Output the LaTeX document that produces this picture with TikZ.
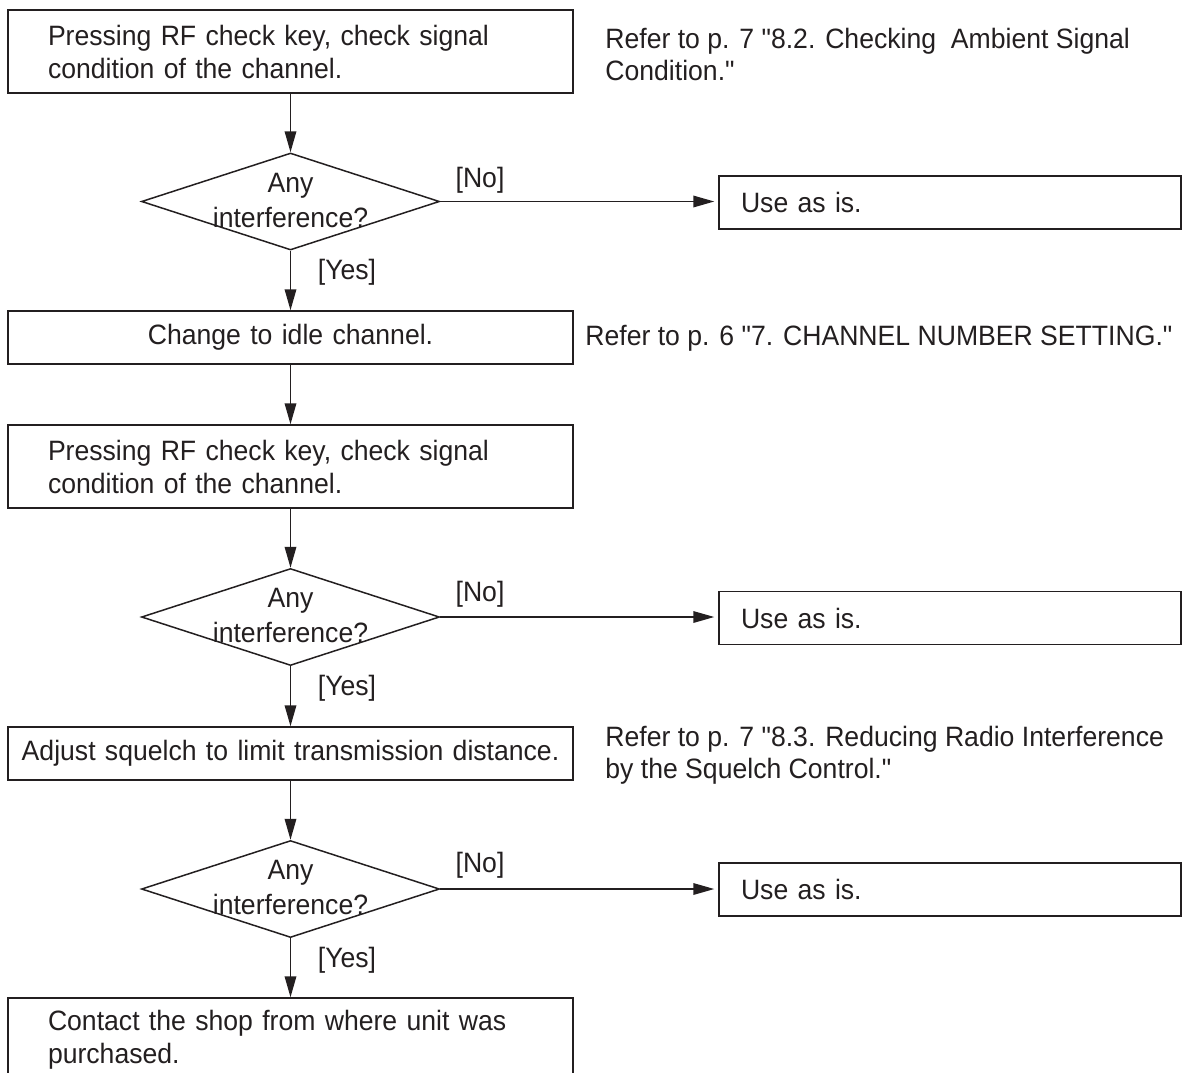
\documentclass[tikz,border=0pt]{standalone}
\usepackage{fontspec}
\setmainfont{Liberation Sans}[Ligatures=TeXOff, FakeStretch=0.95]
\usetikzlibrary{shapes.geometric,arrows.meta}
\definecolor{ink}{HTML}{231F20}
\begin{document}
\begin{tikzpicture}[x=0.5pt,y=-0.5pt,
  every node/.style={text=ink, font=\fontsize{14pt}{16.5pt}\selectfont},
  box/.style={draw=ink, line width=0.75pt, rectangle, minimum width=282.5pt, inner sep=0pt},
  tallbox/.style={box, minimum height=41.5pt, text width=242.5pt, align=left, inner xsep=20pt},
  lowbox/.style={box, minimum height=26.5pt, text width=282.5pt, align=center},
  usebox/.style={draw=ink, line width=0.75pt, rectangle, minimum height=26.5pt, inner sep=0pt, inner xsep=11pt, text width=209pt, align=left},
  decision/.style={draw=ink, line width=0.75pt, diamond, minimum width=149pt, minimum height=48.5pt, inner sep=0pt},
  dtext/.style={align=center, inner sep=0pt, font=\fontsize{14pt}{17.5pt}\selectfont},
  note/.style={anchor=west, align=left, inner sep=0pt, font=\fontsize{14pt}{16pt}\selectfont},
  lbl/.style={inner sep=0pt},
  arr/.style={draw=ink, line width=0.75pt, -{Triangle[length=10.5pt,width=5.8pt]}},
  harr/.style={arr, shorten >=2pt}
]
\useasboundingbox (0,0) rectangle (1198,1072);
\clip (0,0) rectangle (1198,1072);

% column boxes
\node[tallbox] (b1) at (290.5,51.5) {Pressing RF check key, check signal\\condition of the channel.};
\node[decision] (d1) at (290.5,201.5) {};
\node[dtext] (t1) at (290.5,200) {Any\\interference?};
\node[lowbox] (b3) at (290.5,337.5) {Change to idle channel.};
\node[tallbox] (b4) at (290.5,466.5) {Pressing RF check key, check signal\\condition of the channel.};
\node[decision] (d2) at (290.5,617) {};
\node[dtext] (t2) at (290.5,615.5) {Any\\interference?};
\node[lowbox] (b5) at (290.5,753.5) {Adjust squelch to limit transmission distance.};
\node[decision] (d3) at (290.5,889) {};
\node[dtext] (t3) at (290.5,887.5) {Any\\interference?};
\node[tallbox] (b6) at (290.5,1039.5) {Contact the shop from where unit was\\purchased.};

% right side boxes
\node[usebox] (u1) at (950,202.5) {Use as is.};
\node[usebox] (u2) at (950,618) {Use as is.};
\node[usebox] (u3) at (950,889.5) {Use as is.};

% notes
\node[note] (r1) at (605,54) {Refer to p. 7 "8.2. Checking\ \ Ambient Signal\\Condition."};
\node[note] (r2) at (585,338) {Refer to p. 6 "7. CHANNEL NUMBER SETTING."};
\node[note] (r3) at (605,755) {Refer to p. 7 "8.3. Reducing Radio Interference\\by the Squelch Control."};

% labels
\node[lbl] (n1) at (480,180) {[No]};
\node[lbl] (n2) at (480,594) {[No]};
\node[lbl] (n3) at (480,865) {[No]};
\node[lbl] (y1) at (347,272) {[Yes]};
\node[lbl] (y2) at (347,688) {[Yes]};
\node[lbl] (y3) at (347,960) {[Yes]};

% connectors
\draw[arr] (b1) -- (d1);
\draw[arr] (d1) -- (b3);
\draw[arr] (b3) -- (b4);
\draw[arr] (b4) -- (d2);
\draw[arr] (d2) -- (b5);
\draw[arr] (b5) -- (d3);
\draw[arr] (d3) -- (b6);
\draw[harr] (d1.east) -- (d1.east -| u1.west);
\draw[harr] (d2.east) -- (d2.east -| u2.west);
\draw[harr] (d3.east) -- (d3.east -| u3.west);
\end{tikzpicture}
\end{document}
